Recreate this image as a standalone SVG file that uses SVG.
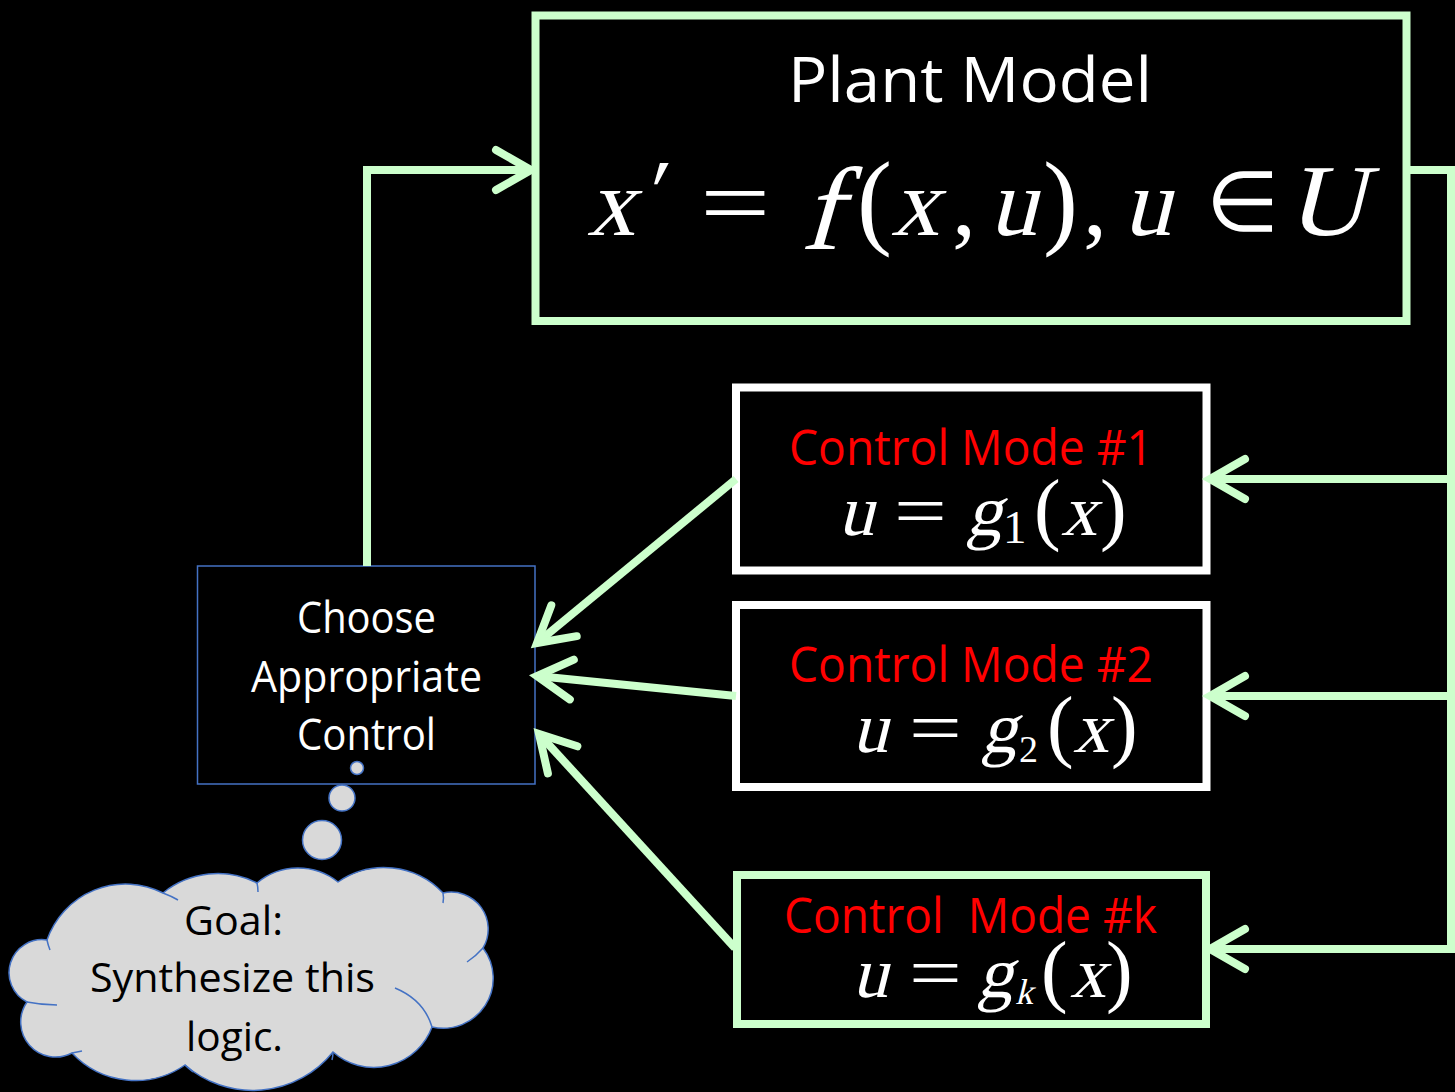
<svg xmlns="http://www.w3.org/2000/svg" width="1455" height="1092" viewBox="0 0 1455 1092">
<defs>
<style>
.bg{fill:#000}
.gbox{fill:#000;stroke:#ccffcc;stroke-width:8}
.wbox{fill:#000;stroke:#ffffff;stroke-width:8}
.bbox{fill:#000;stroke:#4472c4;stroke-width:1.5}
.con{fill:none;stroke:#ccffcc;stroke-width:8;stroke-linejoin:miter}
.lbl{font-family:"Open Sans","Noto Sans",sans-serif;fill:#fff}
.red{font-family:"Open Sans","Noto Sans",sans-serif;fill:#ff0000}
.math{fill:#fff}
.cloud{fill:#d9d9d9;stroke:#4472c4;stroke-width:1.5}
.cline{fill:none;stroke:#4472c4;stroke-width:1.5}
.dark{font-family:"Open Sans","Noto Sans",sans-serif;fill:#000}
</style>
<marker id="chev" viewBox="0 0 50 50" refX="42" refY="25" markerWidth="50" markerHeight="50" markerUnits="userSpaceOnUse" orient="auto" overflow="visible">
<path d="M7 5 L42 25 L7 45" fill="none" stroke="#ccffcc" stroke-width="8" stroke-linecap="round" stroke-linejoin="miter"/>
</marker>
</defs>
<rect class="bg" x="0" y="0" width="1455" height="1092"/>

<g id="plant">
<rect class="gbox" x="535.5" y="15.5" width="871" height="305.5"/>
<text class="lbl" x="788" y="102" font-size="63" textLength="364" lengthAdjust="spacingAndGlyphs">Plant Model</text>
<g class="math" style="font-family:'Liberation Serif','Times New Roman',serif" font-size="96">
<text transform="translate(587 235) skewX(-14)">x</text>
<text transform="translate(643 222) skewX(-10)" font-size="90">′</text>
<text transform="translate(700 235) scale(1.3 1)">=</text>
<text transform="translate(800 249) skewX(-16)" font-size="118">f</text>
<text x="857" y="235" font-size="105">(</text>
<text transform="translate(891 235) skewX(-14)">x</text>
<text x="952" y="235">,</text>
<text transform="translate(989 235) skewX(-14)">u</text>
<text x="1043" y="235" font-size="105">)</text>
<text x="1083" y="235">,</text>
<text transform="translate(1123 235) skewX(-14)">u</text>
<text x="1206" y="231" font-size="84">∈</text>
<text transform="translate(1286 235) skewX(-14) scale(1.08 1)" font-size="102">U</text>
</g>
</g>

<g id="mode1">
<rect class="wbox" x="736" y="387.5" width="470.5" height="183"/>
<text class="red" x="789" y="465" font-size="49" textLength="364" lengthAdjust="spacingAndGlyphs">Control Mode #1</text>
<g class="math" style="font-family:'Liberation Serif','Times New Roman',serif" font-size="72">
<text transform="translate(838 535) skewX(-14)">u</text>
<text transform="translate(894 535) scale(1.3 1)">=</text>
<text transform="translate(966 535) skewX(-14)">g</text>
<text x="1003" y="543" font-size="47">1</text>
<text x="1034" y="535" font-size="80">(</text>
<text transform="translate(1061 535) skewX(-14)">x</text>
<text x="1100" y="535" font-size="80">)</text>
</g>
</g>

<g id="mode2">
<rect class="wbox" x="736" y="605" width="470.5" height="182"/>
<text class="red" x="789" y="682" font-size="49" textLength="364" lengthAdjust="spacingAndGlyphs">Control Mode #2</text>
<g class="math" style="font-family:'Liberation Serif','Times New Roman',serif" font-size="72">
<text transform="translate(852 752) skewX(-14)">u</text>
<text transform="translate(909 752) scale(1.3 1)">=</text>
<text transform="translate(981 752) skewX(-14)">g</text>
<text x="1019" y="762" font-size="38">2</text>
<text x="1047" y="752" font-size="80">(</text>
<text transform="translate(1073 752) skewX(-14)">x</text>
<text x="1111" y="752" font-size="80">)</text>
</g>
</g>

<g id="modek">
<rect class="gbox" x="737" y="875" width="469" height="149"/>
<text class="red" x="784" y="933" font-size="49" textLength="373" lengthAdjust="spacingAndGlyphs" xml:space="preserve">Control  Mode #k</text>
<g class="math" style="font-family:'Liberation Serif','Times New Roman',serif" font-size="72">
<text transform="translate(852 997) skewX(-14)">u</text>
<text transform="translate(909 997) scale(1.3 1)">=</text>
<text transform="translate(977 997) skewX(-14)">g</text>
<text transform="translate(1015 1004) skewX(-14)" font-size="36">k</text>
<text x="1041" y="997" font-size="80">(</text>
<text transform="translate(1070 997) skewX(-14)">x</text>
<text x="1106" y="997" font-size="80">)</text>
</g>
</g>

<g id="choose">
<rect class="bbox" x="197.5" y="566" width="337.5" height="218"/>
<text class="lbl" x="297" y="633" font-size="43" textLength="139" lengthAdjust="spacingAndGlyphs">Choose</text>
<text class="lbl" x="251" y="692" font-size="43" textLength="231" lengthAdjust="spacingAndGlyphs">Appropriate</text>
<text class="lbl" x="297" y="750" font-size="43" textLength="139" lengthAdjust="spacingAndGlyphs">Control</text>
</g>

<g id="thought">
<circle class="cloud" cx="357" cy="768" r="6.5"/>
<circle class="cloud" cx="342" cy="798" r="13"/>
<circle class="cloud" cx="322" cy="840" r="19.5"/>
<path class="cloud" d="M47 940 A83 83 0 0 1 163 893 A87 87 0 0 1 257 883 A64 64 0 0 1 338 882 A81 81 0 0 1 443 893 A37 37 0 0 1 483 948 A50 50 0 0 1 432 1027 A62 62 0 0 1 333 1052 A103 103 0 0 1 185 1065 A87 87 0 0 1 72 1053 A35 35 0 0 1 27 1002 A33 33 0 0 1 47 940 Z"/>
<path class="cline" d="M47 940 Q48 945 50 950"/>
<path class="cline" d="M163 893 Q171 896 178 900"/>
<path class="cline" d="M257 883 Q258 887 258 892"/>
<path class="cline" d="M443 893 Q444 898 443 903"/>
<path class="cline" d="M483 948 Q476 956 467 962"/>
<path class="cline" d="M395 988 Q424 1000 432 1027"/>
<path class="cline" d="M333 1052 Q333 1056 332 1060"/>
<path class="cline" d="M185 1065 Q189 1069 193 1072"/>
<path class="cline" d="M72 1053 Q77 1052 82 1051"/>
<path class="cline" d="M27 1002 Q42 1005 57 1005"/>
<text class="dark" x="184" y="935" font-size="41" textLength="99" lengthAdjust="spacingAndGlyphs">Goal:</text>
<text class="dark" x="90" y="992" font-size="41" textLength="285" lengthAdjust="spacingAndGlyphs">Synthesize this</text>
<text class="dark" x="186" y="1051" font-size="41" textLength="97" lengthAdjust="spacingAndGlyphs">logic.</text>
</g>

<g id="connectors">
<path class="con" d="M367 566 V170 H531" marker-end="url(#chev)"/>
<path class="con" d="M1407 170 H1451 V949 H1210" marker-end="url(#chev)"/>
<path class="con" d="M1451 479 H1210" marker-end="url(#chev)"/>
<path class="con" d="M1451 696 H1210" marker-end="url(#chev)"/>
<path class="con" d="M736 479 L537 643" marker-end="url(#chev)"/>
<path class="con" d="M736 696 L537 676" marker-end="url(#chev)"/>
<path class="con" d="M735 948 L539 734" marker-end="url(#chev)"/>
</g>
</svg>
